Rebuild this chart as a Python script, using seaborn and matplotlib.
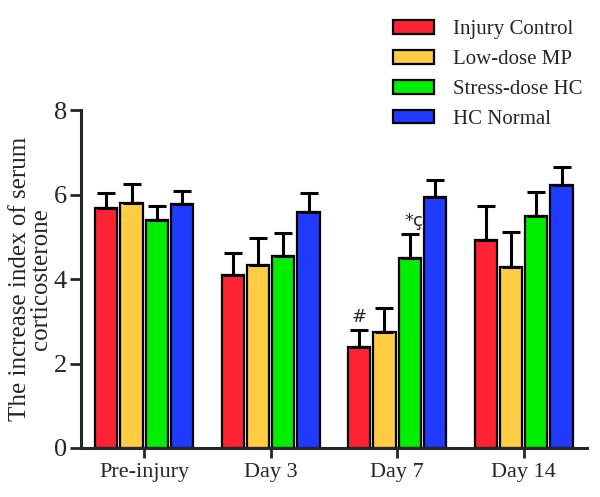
import matplotlib
matplotlib.use("Agg")
import matplotlib.pyplot as plt
import seaborn as sns
import pandas as pd
import numpy as np

# data
days = ["Pre-injury", "Day 3", "Day 7", "Day 14"]
groups = ["Injury Control", "Low-dose MP", "Stress-dose HC", "HC Normal"]
injury_control = [5.67, 4.10, 2.39, 4.92]
low_dose_mp = [5.81, 4.34, 2.75, 4.29]
stress_dose_hc = [5.39, 4.54, 4.50, 5.49]
hc_normal = [5.78, 5.58, 5.93, 6.22]
err_injury_control = [0.36, 0.51, 0.40, 0.82]
err_low_dose_mp = [0.43, 0.63, 0.57, 0.83]
err_stress_dose_hc = [0.35, 0.55, 0.56, 0.58]
err_hc_normal = [0.30, 0.46, 0.41, 0.43]
colors = ["#FF2233", "#FFCC44", "#00EE00", "#1F3BFF"]

means = [injury_control, low_dose_mp, stress_dose_hc, hc_normal]
errs = [err_injury_control, err_low_dose_mp, err_stress_dose_hc, err_hc_normal]

df = pd.DataFrame({
    "day": days * len(groups),
    "group": np.repeat(groups, len(days)),
    "value": np.concatenate(means),
    "err": np.concatenate(errs),
})

sns.set_style("ticks")
plt.rcParams["font.family"] = ["Liberation Serif", "DejaVu Serif"]

fig = plt.figure(figsize=(6, 4.97), dpi=100)
ax = fig.add_axes([0.135, 0.0986, 0.843, 0.68])

sns.barplot(data=df, x="day", y="value", hue="group", order=days,
            hue_order=groups, palette=colors, errorbar=None, width=0.8,
            gap=0.12, edgecolor="black", linewidth=1.6, saturation=1,
            ax=ax, legend=True)

# one-sided error bars at the bar centres
for gi, g in enumerate(groups):
    cont = ax.containers[gi]
    xs = [b.get_x() + b.get_width() / 2 for b in cont]
    hs = [b.get_height() for b in cont]
    e = errs[gi]
    ax.errorbar(xs, hs, yerr=[np.zeros(len(e)), e], fmt="none",
                ecolor="black", elinewidth=2.2, capsize=6.5, capthick=2.2,
                zorder=1)

# significance marks on Day 7
d7 = days.index("Day 7")
red_bar = ax.containers[0][d7]
green_bar = ax.containers[2][d7]
ax.text(red_bar.get_x() + red_bar.get_width() / 2,
        injury_control[d7] + err_injury_control[d7] + 0.1, "#",
        ha="center", va="bottom", fontsize=13, family=["DejaVu Sans"])
ax.text(green_bar.get_x() + green_bar.get_width() / 2 + 0.03,
        stress_dose_hc[d7] + err_stress_dose_hc[d7] + 0.1, "*ç",
        ha="center", va="bottom", fontsize=13, family=["DejaVu Sans"])

ax.set_ylim(0, 8)
ax.set_yticks([0, 2, 4, 6, 8])
ax.set_xlim(-0.5, 3.5)
ax.set_xlabel("")
ax.set_ylabel("The increase index of serum\ncorticosterone", fontsize=18,
              linespacing=0.95, labelpad=1)
ax.tick_params(axis="y", labelsize=19, width=2, length=8, direction="out",
               pad=2)
ax.tick_params(axis="x", labelsize=16, width=2, length=7, direction="out")
sns.despine(ax=ax)
for s in ["left", "bottom"]:
    ax.spines[s].set_linewidth(2.2)

handles, labels = ax.get_legend_handles_labels()
ax.legend(handles, labels, loc="upper left", bbox_to_anchor=(0.623, 0.997),
          bbox_transform=fig.transFigure, frameon=False, fontsize=15,
          handlelength=2.0, handleheight=0.62, labelspacing=0.52,
          handletextpad=0.9)

fig.savefig("out.png", dpi=100)
